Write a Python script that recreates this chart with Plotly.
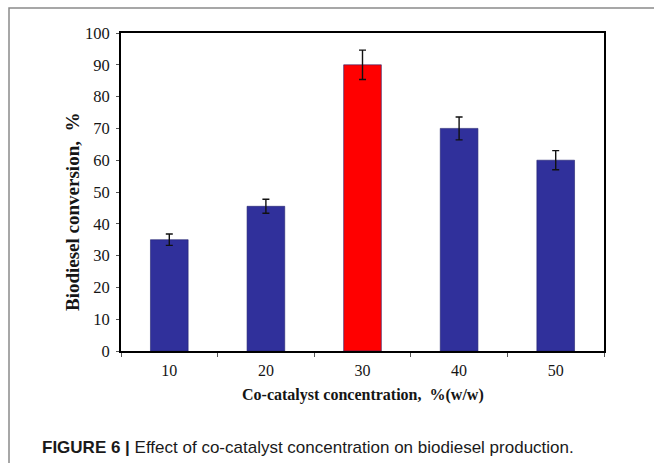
import plotly.graph_objects as go

# Co-catalyst loading (% w/w) and measured biodiesel conversion (%)
concentrations = ["10", "20", "30", "40", "50"]
conversion = [35.0, 45.5, 90.0, 70.0, 60.0]
conversion_err = [1.8, 2.2, 4.6, 3.6, 3.0]
bar_colors = ["#30309B", "#30309B", "#FF0000", "#30309B", "#30309B"]
y_ticks = [0, 10, 20, 30, 40, 50, 60, 70, 80, 90, 100]

W, H = 654, 463
L, R, T, B = 121, 604, 33, 351  # plot-area edges in pixels


def px(x):
    return (x - L) / (R - L)


def py(y):
    return (B - y) / (B - T)


serif = "Liberation Serif, Times New Roman, serif"
ink = "#151515"

fig = go.Figure(
    go.Bar(
        x=concentrations,
        y=conversion,
        marker=dict(color=bar_colors, line=dict(color="#22226E", width=0.6)),
        error_y=dict(type="data", array=conversion_err, color="#111111",
                     thickness=1.4, width=3.5),
    )
)

fig.update_layout(
    width=W, height=H,
    margin=dict(l=L, r=W - R, t=T, b=H - B),
    paper_bgcolor="white", plot_bgcolor="white",
    bargap=0.61,
    showlegend=False,
    font=dict(family=serif, size=16, color=ink),
)

fig.update_xaxes(
    type="category",
    showline=True, linecolor="black", linewidth=2, mirror=True,
    ticks="outside", tickson="boundaries", ticklen=4, tickcolor="#555",
    tickfont=dict(family=serif, size=16, color=ink),
    ticklabelstandoff=4,
    showgrid=False,
)
fig.update_yaxes(
    range=[0, 100], tickvals=y_ticks,
    showline=True, linecolor="black", linewidth=2, mirror=True,
    ticks="outside", ticklen=3, tickcolor="#555",
    tickfont=dict(family=serif, size=16.5, color=ink),
    ticklabelstandoff=3,
    showgrid=False, zeroline=False,
)

annotations = [
    # y-axis title
    dict(text="<b>Biodiesel conversion,  %</b>", x=px(72), y=py(212),
         xref="paper", yref="paper", textangle=-90, showarrow=False,
         xanchor="center", yanchor="middle",
         font=dict(family=serif, size=19, color=ink)),
    # x-axis title
    dict(text="<b>Co-catalyst concentration,  %(w/w)</b>", x=px(363), y=py(395),
         xref="paper", yref="paper", showarrow=False,
         xanchor="center", yanchor="middle",
         font=dict(family=serif, size=16, color=ink)),
    # figure caption
    dict(text="<b>FIGURE 6 |</b> Effect of co-catalyst concentration on biodiesel production.",
         x=px(40), y=py(447), xref="paper", yref="paper", showarrow=False,
         xanchor="left", yanchor="middle",
         font=dict(family="Liberation Sans, Arial, sans-serif", size=17, color="#1a1a1a")),
]
fig.update_layout(annotations=annotations)

# thin grey frame around the figure panel
fig.add_shape(
    type="path", xref="paper", yref="paper",
    path=f"M {px(9)} {py(475)} L {px(9)} {py(8)} L {px(670)} {py(8)}",
    line=dict(color="#8a8a8a", width=1.5),
)

fig.write_html("out.html")
